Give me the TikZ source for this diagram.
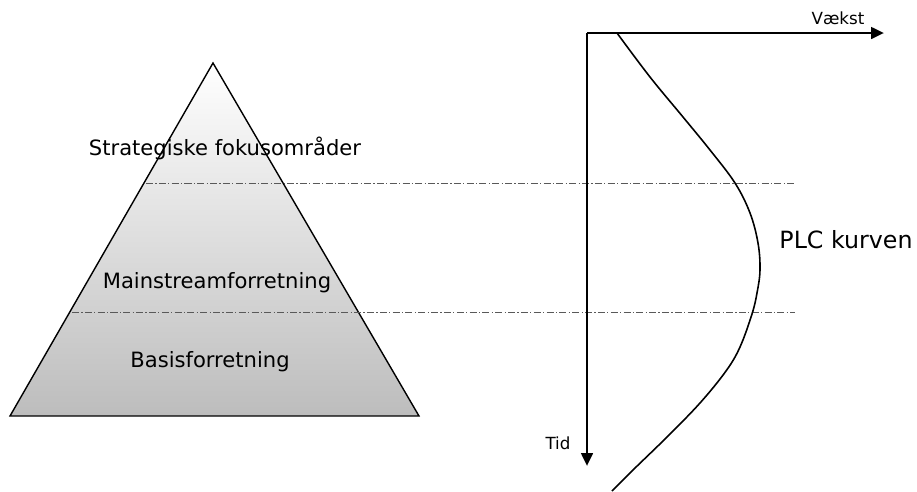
\documentclass[tikz,border=0pt]{standalone}
\usepackage{fontspec}
\setmainfont{DejaVu Sans}
\usetikzlibrary{arrows.meta}
\begin{document}
\begin{tikzpicture}[x=0.02cm,y=-0.02cm,
    niveau/.style={font=\fontsize{12}{14}\selectfont},
    akse/.style={line width=1.6pt,-{Triangle[length=7.4pt,width=6.6pt]}},
    skille/.style={draw=black!65,line width=0.4pt,dash pattern=on 4pt off 1.3pt on 0.7pt off 1.3pt},
    aksetekst/.style={font=\fontsize{9.5}{12}\selectfont}]
    \useasboundingbox (0,0) rectangle (917,491);
		% pyramiden
		\coordinate (top) at (213,63);
		\coordinate (vbund) at (10,416);
		\coordinate (hbund) at (419,416);
		\shade[top color=white,bottom color=black!26] (top)--(vbund)--(hbund)--cycle;
		\draw[line width=0.8pt] (top)--(vbund)--(hbund)--cycle;
		\node[niveau] (strat) at (225,148) {Strategiske fokusområder};
		\node[niveau] (main) at (217,283) {Mainstreamforretning};
		\node[niveau] (basis) at (210,362) {Basisforretning};
		% skillelinjer
		\coordinate (s1a) at (146,183);
		\coordinate (s1b) at (795,183);
		\coordinate (s2a) at (72,312);
		\coordinate (s2b) at (795,312);
		\draw[skille] (s1a)--(s1b);
		\draw[skille] (s2a)--(s2b);
		% akser
		\coordinate (o) at (587,33);
		\coordinate (vende) at (884,33);
		\coordinate (tende) at (587,466);
		\draw[akse] (o)--(vende);
		\draw[akse] (o)--(tende);
		\node[aksetekst] (vaekst) at (838,18) {Vækst};
		\node[aksetekst] (tid) at (558,443) {Tid};
		% PLC kurven
		\draw[line width=0.9pt] plot[smooth,tension=0.6] coordinates {(617,33) (650,77) (683,117) (710,150) (735,183) (750,213) (758,243) (760,270) (757,293) (752,314) (740,347) (726,371) (700,403) (667,437) (633,470) (612,491)};
		\node[font=\fontsize{13.5}{16}\selectfont] (plc) at (846,240) {PLC kurven};
    \end{tikzpicture}
\end{document}
